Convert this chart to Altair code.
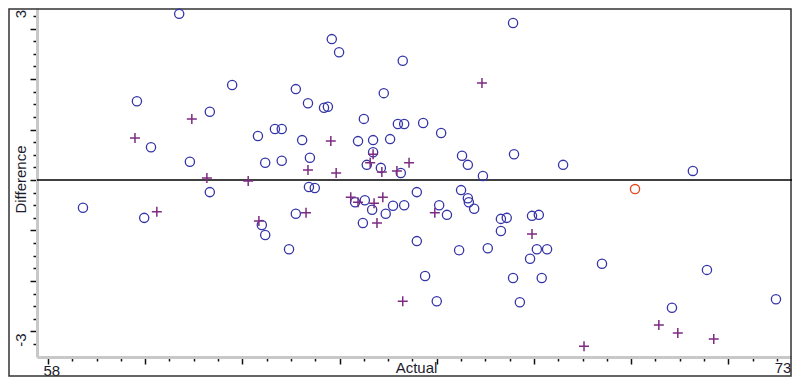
import altair as alt
import pandas as pd

# ---- data ----
blue_x = [58.72, 59.83, 60.12, 59.98, 60.70, 60.92, 63.84, 63.99, 61.79, 63.10,
          61.33, 63.35, 63.68, 63.76, 62.67, 62.81, 62.32, 63.23, 63.39, 62.47,
          62.81, 61.33, 63.37, 63.49, 67.57, 65.30, 64.91, 64.50, 65.20, 65.33,
          65.72, 66.09, 64.38, 64.69, 65.04, 64.69, 66.52, 67.59, 66.64, 68.60,
          64.56, 64.85, 65.26, 66.95, 65.59, 66.50, 66.64, 66.66, 64.52, 64.32,
          64.67, 64.95, 65.10, 65.33, 66.05, 66.21, 66.77, 64.48, 67.32, 67.44,
          67.32, 67.96, 68.10, 65.59, 66.46, 67.05, 68.06, 68.27, 67.92, 69.40,
          65.76, 67.57, 68.16, 66.00, 67.71, 63.10, 62.40, 62.47, 62.96, 71.56,
          70.84, 72.98, 71.27]
blue_y = [-0.55, 1.56, 0.65, -0.75, 3.29, 0.36, 2.79, 2.53, 1.88, 1.80,
          1.35, 1.52, 1.43, 1.45, 1.01, 1.01, 0.87, 0.79, 0.44, 0.34,
          0.38, -0.24, -0.14, -0.16, 3.11, 2.36, 1.72, 1.21, 1.11, 1.11,
          1.13, 0.93, 0.77, 0.79, 0.81, 0.55, 0.48, 0.51, 0.30, 0.30,
          0.30, 0.24, 0.14, 0.08, -0.24, -0.20, -0.36, -0.44, -0.40, -0.44,
          -0.59, -0.67, -0.51, -0.50, -0.50, -0.69, -0.57, -0.85, -0.77, -0.75,
          -1.01, -0.71, -0.69, -1.21, -1.39, -1.35, -1.37, -1.37, -1.56, -1.66,
          -1.90, -1.94, -1.94, -2.40, -2.42, -0.67, -0.89, -1.09, -1.37, -1.78,
          -2.53, -2.36, 0.18]

plus_x = [60.96, 59.79, 63.82, 63.35, 63.93, 61.27, 62.12, 66.93, 64.69, 64.63,
          65.43, 64.87, 65.18, 64.23, 64.89, 64.38, 64.71, 64.77, 65.96, 67.96,
          65.30, 69.03, 60.24, 62.34, 63.31, 70.57, 70.96, 71.70]
plus_y = [1.21, 0.83, 0.77, 0.20, 0.14, 0.04, -0.02, 1.92, 0.51, 0.34,
          0.34, 0.16, 0.18, -0.34, -0.34, -0.44, -0.46, -0.85, -0.65, -1.07,
          -2.40, -3.29, -0.63, -0.81, -0.65, -2.87, -3.03, -3.15]

red_x = [70.08]
red_y = [-0.18]

x_ticks = [58 + 0.5 * i for i in range(31)]        # 58 .. 73
y_ticks = [-3.25 + 0.25 * i for i in range(27)]    # -3.25 .. 3.25
x_domain = [57.774, 73.31]
y_domain = [-3.505, 3.406]

W, H = 755, 349
FONT = "Liberation Sans"
TXT = "#1c1c2c"

x_axis = alt.Axis(
    values=x_ticks, title="Actual", grid=False,
    domainColor="#c8c8c8", domainWidth=3,
    tickColor="#111111", tickWidth=1.5,
    tickSize={"condition": {"test": "datum.value % 2 == 0", "value": 7}, "value": 4},
    labelExpr="datum.value == 58 ? '58' : (datum.value == 73 ? '73' : '')",
    labelFont=FONT, labelFontSize=15, labelColor=TXT,
    labelAlign={"condition": {"test": "datum.value == 73", "value": "right"}, "value": "left"},
    labelBaseline="alphabetic", labelPadding=11,
    labelOffset={"condition": {"test": "datum.value == 58", "value": -5}, "value": 14},
    labelFlush=False, labelOverlap=False,
    titleFont=FONT, titleFontSize=15, titleFontWeight="normal", titleColor=TXT,
    titleX=379, titleY=15, titleBaseline="alphabetic", titleAlign="center",
)
y_axis = alt.Axis(
    values=y_ticks, title="Difference", grid=False,
    domainColor="#c8c8c8", domainWidth=3,
    tickColor="#111111", tickWidth=1.5,
    tickSize={"condition": {"test": "datum.value % 1 == 0", "value": 7}, "value": 4},
    labelExpr="datum.value == 3 ? '3' : (datum.value == -3 ? '-3' : '')",
    labelFont=FONT, labelFontSize=15, labelColor=TXT,
    labelAngle=270, labelAlign="center", labelBaseline="alphabetic", labelPadding=5,
    labelOffset={"condition": {"test": "datum.value == 3", "value": -15}, "value": 8},
    labelFlush=False, labelOverlap=False,
    titleFont=FONT, titleFontSize=15, titleFontWeight="normal", titleColor=TXT,
    titleX=-12, titleY=171, titleAngle=270, titleBaseline="alphabetic", titleAlign="center",
)

X = alt.X("x:Q", scale=alt.Scale(domain=x_domain, nice=False, zero=False), axis=x_axis)
Y = alt.Y("y:Q", scale=alt.Scale(domain=y_domain, nice=False, zero=False), axis=y_axis)

blue_df = pd.DataFrame({"x": blue_x, "y": blue_y})
plus_df = pd.DataFrame({"x": plus_x, "y": plus_y})
red_df = pd.DataFrame({"x": red_x, "y": red_y})
zero_df = pd.DataFrame({"y": [0]})

border = alt.Chart(pd.DataFrame({"k": [0]})).mark_rect(
    fillOpacity=0, stroke="#333333", strokeWidth=1.5
).encode(x=alt.value(-28), x2=alt.value(W - 1), y=alt.value(1), y2=alt.value(H + 19))

zero = alt.Chart(zero_df).mark_rule(color="black", strokeWidth=1.5).encode(y=Y)

circles = alt.Chart(blue_df).mark_point(
    shape="circle", filled=False, size=85, strokeWidth=1.3, color="#3434a8", opacity=1
).encode(x=X, y=Y)

pluses = alt.Chart(plus_df).mark_point(
    shape="M-1,0L1,0M0,-1L0,1", filled=False, size=100, strokeWidth=1.5,
    color="#7d2b80", opacity=1
).encode(x=X, y=Y)

red = alt.Chart(red_df).mark_point(
    shape="circle", filled=False, size=85, strokeWidth=1.3, color="#e8461e", opacity=1
).encode(x=X, y=Y)

chart = alt.layer(border, zero, circles, pluses, red).properties(
    width=W, height=H,
    autosize=alt.AutoSizeParams(type="none"),
    padding={"left": 29, "top": 0, "right": 0, "bottom": 20},
    background="white",
).configure_view(stroke=None)

chart.save("out.html", embed_options={"renderer": "svg", "actions": False})
